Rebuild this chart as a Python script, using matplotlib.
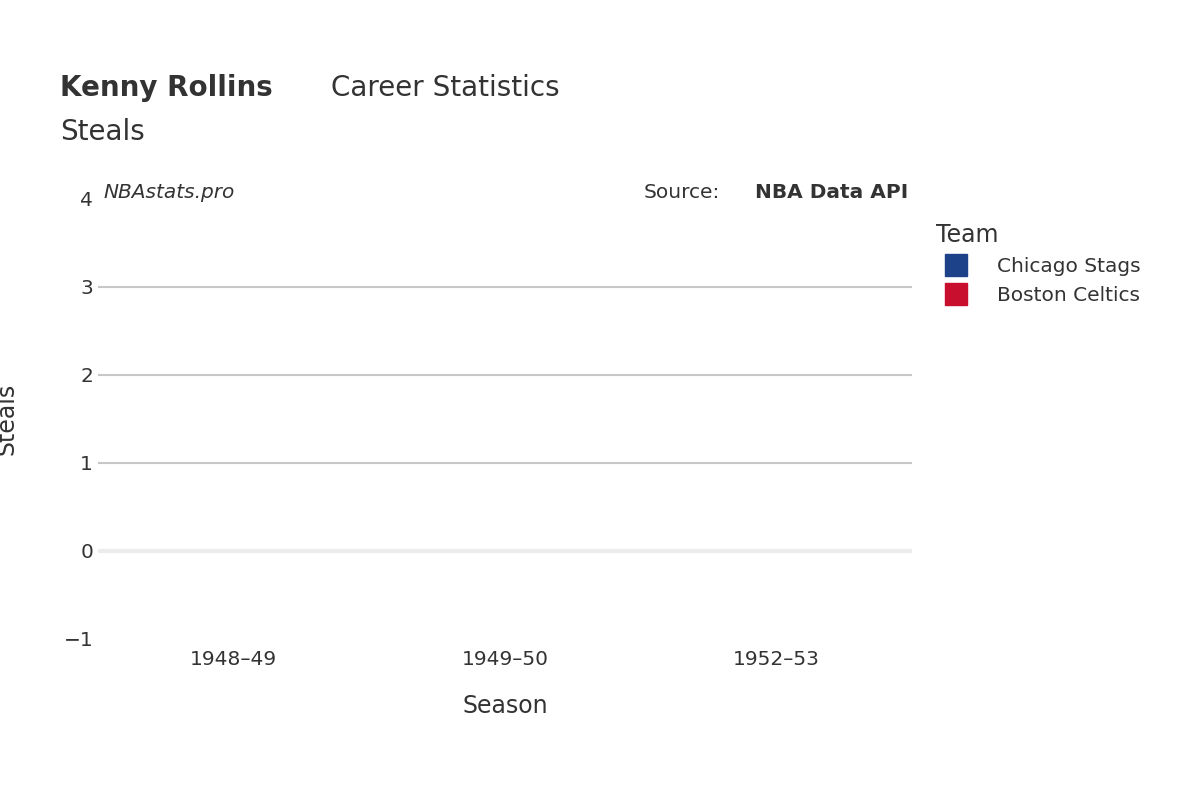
import matplotlib
matplotlib.use("Agg")
import matplotlib.pyplot as plt
from matplotlib.lines import Line2D

plt.rcParams['font.family'] = ['DejaVu Sans']

seasons = ["1948–49", "1949–50", "1952–53"]
teams = ["Chicago Stags", "Boston Celtics"]
team_colors = ["#1d428a", "#c8102e"]
steals = [0, 0, 0]
yticks = [-1, 0, 1, 2, 3, 4]

fig = plt.figure(figsize=(12, 8), dpi=100)
ax = fig.add_axes([98/1200, 1-639/800, (912-98)/1200, (639-199)/800])
ax.bar(range(len(seasons)), steals, color=team_colors[0], width=0.8)
ax.set_xlim(-0.5, 2.5)
ax.set_ylim(-1, 4)
for v in [1, 2, 3]:
    ax.axhline(v, color="#c8c8c8", lw=1.5, zorder=0)
ax.axhline(0, color="#ececec", lw=3, zorder=0)
for s in ax.spines.values():
    s.set_visible(False)
ax.tick_params(length=0, labelsize=14.5, colors="#333333")
ax.set_xticks(range(len(seasons)), seasons)
ax.set_yticks(yticks, ["−1", "0", "1", "2", "3", "4"])
ax.tick_params(axis="x", pad=8)
ax.set_xlabel("Season", fontsize=17, color="#333333", labelpad=18)
ax.set_ylabel("Steals", fontsize=17, color="#333333", labelpad=32)

fig.text(60/1200, 1-88/800, "Kenny Rollins", fontsize=20, fontweight="bold", color="#333333", va="center")
fig.text(331/1200, 1-88/800, "Career Statistics", fontsize=20, color="#333333", va="center")
fig.text(60/1200, 1-132/800, "Steals", fontsize=20, color="#333333", va="center")
fig.text(103/1200, 1-192/800, "NBAstats.pro", fontsize=14.5, style="italic", color="#333333", va="center")
fig.text(908/1200, 1-192/800, "NBA Data API", fontsize=14.5, fontweight="bold", color="#333333", va="center", ha="right")
fig.text(720/1200, 1-192/800, "Source:", fontsize=14.5, color="#333333", va="center", ha="right")

handles = [Line2D([0], [0], marker="s", ls="", markersize=16, markerfacecolor=c, markeredgecolor=c) for c in team_colors]
leg = fig.legend(handles, teams, loc="upper left", bbox_to_anchor=(918/1200, 1-205/800), frameon=False,
                 title="Team", fontsize=14.5, title_fontsize=17, labelcolor="#333333", alignment="left",
                 handletextpad=1.0, labelspacing=0.5)
leg.get_title().set_color("#333333")
fig.savefig("out.png", dpi=100)
